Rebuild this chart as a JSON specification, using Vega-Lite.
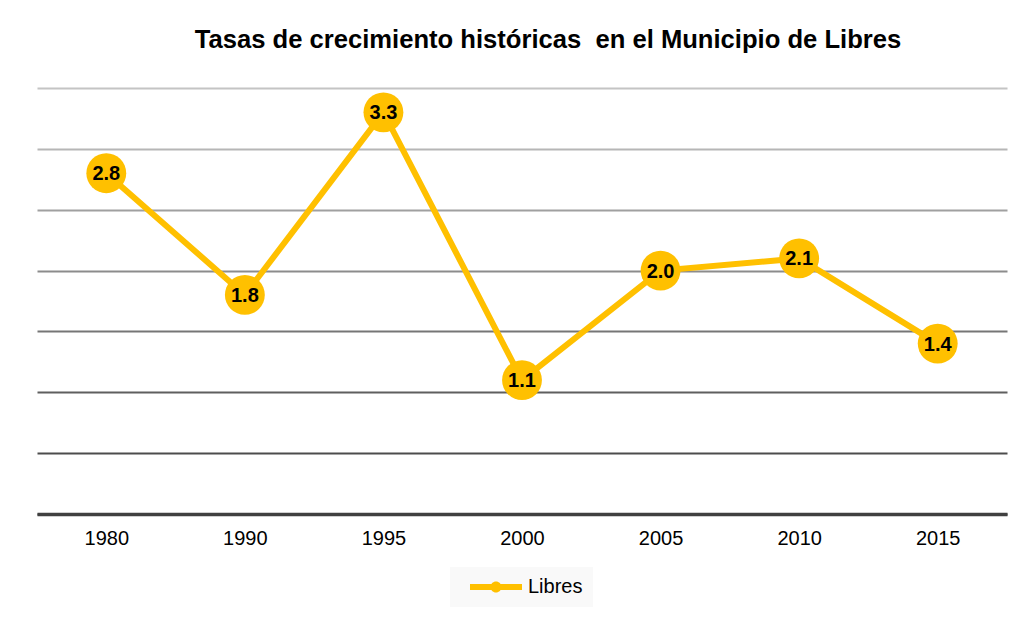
{
  "$schema": "https://vega.github.io/schema/vega-lite/v6.json",
  "width": 970,
  "height": 426,
  "autosize": {"type": "none"},
  "padding": {"left": 37, "top": 88, "right": 21, "bottom": 105},
  "background": "white",
  "config": {
    "view": {"stroke": null},
    "font": "Liberation Sans"
  },
  "title": {
    "text": "Tasas de crecimiento históricas\u00a0 en el Municipio de Libres",
    "fontSize": 25.6,
    "fontWeight": "bold",
    "font": "Liberation Sans",
    "color": "#000000",
    "anchor": "middle",
    "frame": "group",
    "dx": 26,
    "baseline": "alphabetic",
    "offset": 14
  },
  "data": {
    "values": [
      {"year": "1980", "rate": 2.8, "series": "Libres"},
      {"year": "1990", "rate": 1.8, "series": "Libres"},
      {"year": "1995", "rate": 3.3, "series": "Libres"},
      {"year": "2000", "rate": 1.1, "series": "Libres"},
      {"year": "2005", "rate": 2.0, "series": "Libres"},
      {"year": "2010", "rate": 2.1, "series": "Libres"},
      {"year": "2015", "rate": 1.4, "series": "Libres"}
    ]
  },
  "encoding": {
    "x": {
      "field": "year",
      "type": "ordinal",
      "scale": {"type": "point", "padding": 0.5},
      "axis": {
        "title": null,
        "labelAngle": 0,
        "labelFontSize": 20,
        "labelColor": "#000000",
        "labelBaseline": "alphabetic",
        "labelPadding": 30,
        "ticks": false,
        "tickSize": 0,
        "domain": true,
        "domainColor": "#404040",
        "domainWidth": 3.5,
        "grid": false
      }
    },
    "y": {
      "field": "rate",
      "type": "quantitative",
      "scale": {"domain": [0, 3.5], "nice": false, "zero": true},
      "axis": {
        "title": null,
        "labels": false,
        "ticks": false,
        "domain": false,
        "grid": true,
        "values": [0, 0.5, 1, 1.5, 2, 2.5, 3, 3.5],
        "gridWidth": 2.2,
        "gridOpacity": 1,
        "gridColor": {
          "condition": [
            {"test": "datum.value >= 3.5", "value": "#c4c4c4"},
            {"test": "datum.value >= 3", "value": "#b6b6b6"},
            {"test": "datum.value >= 2.5", "value": "#a0a0a0"},
            {"test": "datum.value >= 2", "value": "#8c8c8c"},
            {"test": "datum.value >= 1.5", "value": "#767676"},
            {"test": "datum.value >= 1", "value": "#5f5f5f"},
            {"test": "datum.value >= 0.5", "value": "#4c4c4c"}
          ],
          "value": "#404040"
        }
      }
    }
  },
  "layer": [
    {
      "mark": {"type": "line", "color": "#FFC000", "strokeWidth": 6}
    },
    {
      "mark": {"type": "point", "filled": true, "opacity": 1, "size": 1590, "shape": "circle"},
      "encoding": {
        "color": {
          "field": "series",
          "type": "nominal",
          "scale": {"range": ["#FFC000"]},
          "legend": {
            "title": null,
            "orient": "none",
            "legendX": 413,
            "legendY": 479,
            "fillColor": "#f9f9f9",
            "padding": 10,
            "labelFontSize": 20,
            "labelColor": "#000000",
            "labelFont": "Liberation Sans",
            "labelOffset": 48,
            "symbolSize": 400,
            "symbolStrokeWidth": 0,
            "symbolOpacity": 1,
            "symbolType": "M0,-0.3L5.2,-0.3L5.2,0.3L0,0.3Z M2.05,0A0.55,0.55 0 1,1 3.15,0A0.55,0.55 0 1,1 2.05,0Z"
          }
        }
      }
    },
    {
      "mark": {"type": "text", "fontSize": 20, "fontWeight": "bold", "color": "#000000", "align": "center", "baseline": "middle", "dy": 1},
      "encoding": {
        "text": {"field": "rate", "type": "quantitative", "format": ".1f"}
      }
    }
  ]
}
